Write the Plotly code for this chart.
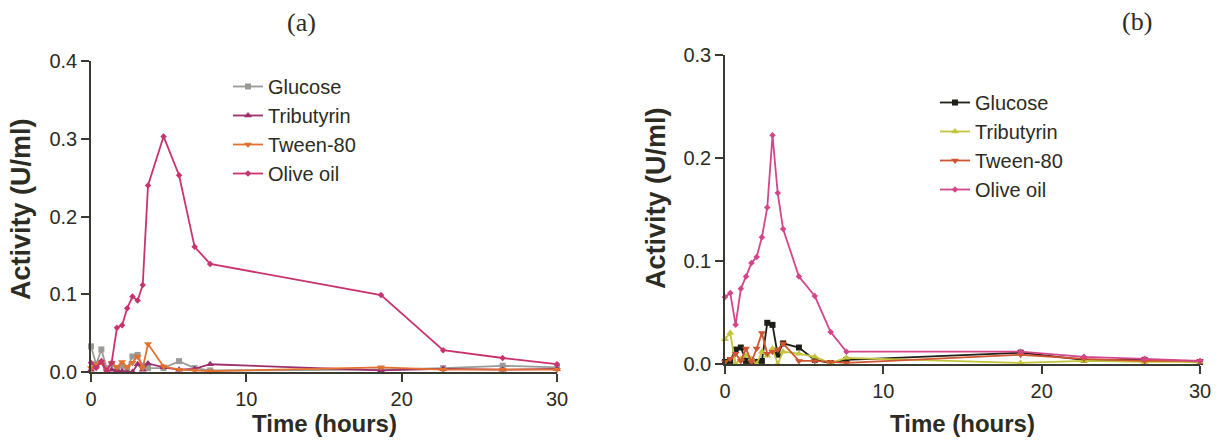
import plotly.graph_objects as go

# Sampling times (hours)
time_h = [0, 0.33, 0.67, 1.0, 1.33, 1.67, 2.0, 2.33, 2.67, 3.0, 3.33, 3.67,
          4.67, 5.67, 6.67, 7.67, 18.67, 22.67, 26.5, 30]

# Panel (a)
a_glucose = [0.033, 0.010, 0.029, 0.005, 0.010, 0.005, 0.008, 0.005, 0.020, 0.022,
             0.008, 0.005, 0.005, 0.014, 0.005, 0.002, 0.003, 0.005, 0.008, 0.006]
a_tributyrin = [0.003, 0.008, 0.012, 0.000, 0.003, 0.002, 0.001, 0.000, 0.000, 0.010,
                0.003, 0.011, 0.006, 0.003, 0.004, 0.010, 0.002, 0.004, 0.003, 0.004]
a_tween = [0.005, 0.010, 0.013, 0.002, 0.012, 0.006, 0.013, 0.006, 0.012, 0.020,
           0.005, 0.036, 0.007, 0.003, 0.002, 0.001, 0.006, 0.003, 0.003, 0.003]
a_olive = [0.012, 0.005, 0.014, 0.002, 0.012, 0.057, 0.060, 0.082, 0.097, 0.092,
           0.112, 0.240, 0.303, 0.253, 0.161, 0.139, 0.099, 0.028, 0.018, 0.010]

# Panel (b)
b_glucose = [0.002, 0.003, 0.014, 0.016, 0.003, 0.003, 0.002, 0.003, 0.040, 0.038,
             0.009, 0.020, 0.016, 0.004, 0.001, 0.004, 0.011, 0.004, 0.004, 0.002]
b_tributyrin = [0.024, 0.030, 0.000, 0.005, 0.008, 0.005, 0.000, 0.012, 0.008, 0.015,
                0.000, 0.012, 0.010, 0.007, 0.001, 0.006, 0.001, 0.003, 0.002, 0.002]
b_tween = [0.002, 0.005, 0.010, 0.003, 0.015, 0.002, 0.015, 0.030, 0.010, 0.012,
           0.014, 0.020, 0.003, 0.003, 0.002, 0.001, 0.009, 0.005, 0.003, 0.003]
b_olive = [0.065, 0.069, 0.038, 0.073, 0.085, 0.098, 0.104, 0.123, 0.152, 0.222,
           0.166, 0.131, 0.085, 0.066, 0.031, 0.012, 0.012, 0.007, 0.005, 0.003]

series_names = ["Glucose", "Tributyrin", "Tween-80", "Olive oil"]
symbols = ["square", "triangle-up", "triangle-down", "diamond"]
sizes = [6, 7, 7, 5]
colors_a = ["#9a9a96", "#9c2f6e", "#e2702e", "#c8336f"]
colors_b = ["#1e1e18", "#c2c43a", "#cf5530", "#d4458a"]

TXT = "#2c2c22"
AX = "#3a3a30"

fig = go.Figure()

for i, (name, ys) in enumerate(zip(series_names, [a_glucose, a_tributyrin, a_tween, a_olive])):
    fig.add_trace(go.Scatter(
        x=time_h, y=ys, name=name, mode="lines+markers",
        line=dict(color=colors_a[i], width=1.8),
        marker=dict(symbol=symbols[i], size=sizes[i], color=colors_a[i]),
        xaxis="x", yaxis="y", legend="legend", legendgroup="a" + str(i),
        cliponaxis=False,
    ))

for i, (name, ys) in enumerate(zip(series_names, [b_glucose, b_tributyrin, b_tween, b_olive])):
    fig.add_trace(go.Scatter(
        x=time_h, y=ys, name=name, mode="lines+markers",
        line=dict(color=colors_b[i], width=1.8),
        marker=dict(symbol=symbols[i], size=sizes[i], color=colors_b[i]),
        xaxis="x2", yaxis="y2", legend="legend2", legendgroup="b" + str(i),
        cliponaxis=False,
    ))

axis_common = dict(showline=True, linecolor=AX, linewidth=1.5, ticks="outside",
                   ticklen=8, tickwidth=1.5, tickcolor=AX, showgrid=False,
                   zeroline=False, automargin=False,
                   tickfont=dict(family="Arial", size=20, color=TXT))
xtitle_font = dict(family="Arial", size=24, color=TXT, weight="bold")
ytitle_font = dict(family="Arial", size=27, color=TXT, weight="bold")
label_font = dict(family="Liberation Serif", size=26, color=TXT)


def px_x(p):
    return p / 1218


def px_y(p):
    return 1 - p / 446


fig.update_layout(
    width=1218, height=446,
    margin=dict(l=0, r=0, t=0, b=0, autoexpand=False),
    paper_bgcolor="white", plot_bgcolor="white",
    font=dict(family="Arial", color=TXT),
    xaxis=dict(domain=[px_x(91), px_x(557)], range=[0, 30], dtick=10, anchor="y",
               **axis_common),
    yaxis=dict(domain=[74/446, 385/446], range=[0, 0.4], dtick=0.1, tickformat=".1f",
               anchor="x", **axis_common),
    xaxis2=dict(domain=[px_x(725), px_x(1200)], range=[0, 30], dtick=10, anchor="y2",
                **axis_common),
    yaxis2=dict(domain=[82/446, 391/446], range=[0, 0.3], dtick=0.1, tickformat=".1f",
                anchor="x2", **axis_common),
    legend=dict(x=px_x(228), y=px_y(67), xanchor="left", yanchor="top",
                font=dict(family="Arial", size=20, color=TXT), bgcolor="rgba(0,0,0,0)",
                tracegroupgap=0),
    legend2=dict(x=px_x(935), y=px_y(83), xanchor="left", yanchor="top",
                 font=dict(family="Arial", size=20, color=TXT), bgcolor="rgba(0,0,0,0)",
                 tracegroupgap=0),
    annotations=[
        dict(text="(a)", x=px_x(301), y=px_y(22), xref="paper", yref="paper",
             xanchor="center", yanchor="middle", showarrow=False, font=label_font),
        dict(text="(b)", x=px_x(1137), y=px_y(21), xref="paper", yref="paper",
             xanchor="center", yanchor="middle", showarrow=False, font=label_font),
        dict(text="Time (hours)", x=px_x(324), y=px_y(423), xref="paper", yref="paper",
             xanchor="center", yanchor="middle", showarrow=False, font=xtitle_font),
        dict(text="Time (hours)", x=px_x(962), y=px_y(423), xref="paper", yref="paper",
             xanchor="center", yanchor="middle", showarrow=False, font=xtitle_font),
        dict(text="Activity (U/ml)", x=px_x(21), y=px_y(209), xref="paper", yref="paper",
             xanchor="center", yanchor="middle", textangle=-90, showarrow=False,
             font=ytitle_font),
        dict(text="Activity (U/ml)", x=px_x(656), y=px_y(198), xref="paper", yref="paper",
             xanchor="center", yanchor="middle", textangle=-90, showarrow=False,
             font=ytitle_font),
    ],
)

fig.write_html("out.html")
